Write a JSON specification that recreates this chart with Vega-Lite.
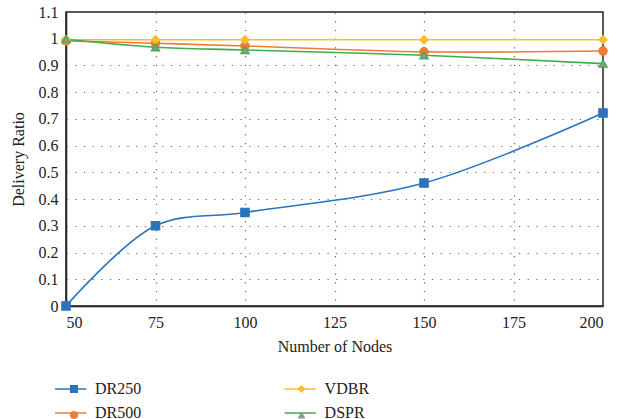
{
  "$schema": "https://vega.github.io/schema/vega-lite/v6.json",
  "autosize": {"type": "none"},
  "padding": {"left": 66, "top": 12, "right": 14, "bottom": 113},
  "width": 537,
  "height": 294,
  "background": "white",
  "config": {
    "view": {"stroke": "#222", "strokeWidth": 1.5},
    "font": "Liberation Serif",
    "axis": {
      "labelFont": "Liberation Serif", "labelFontSize": 16, "labelColor": "#222",
      "titleFont": "Liberation Serif", "titleFontSize": 16, "titleFontWeight": "normal", "titleColor": "#222",
      "domainColor": "#222", "domainWidth": 1.5, "ticks": false,
      "gridColor": "#666", "gridDash": [1.2, 7.5], "gridWidth": 1.2
    },
    "legend": {
      "labelFont": "Liberation Serif", "labelFontSize": 16, "labelColor": "#222"
    }
  },
  "data": {
    "values": [
      {"nodes": 50, "series": "DR250", "ratio": 0.0},
      {"nodes": 75, "series": "DR250", "ratio": 0.30},
      {"nodes": 100, "series": "DR250", "ratio": 0.35},
      {"nodes": 150, "series": "DR250", "ratio": 0.46},
      {"nodes": 200, "series": "DR250", "ratio": 0.722},
      {"nodes": 50, "series": "DR500", "ratio": 0.992},
      {"nodes": 75, "series": "DR500", "ratio": 0.983},
      {"nodes": 100, "series": "DR500", "ratio": 0.973},
      {"nodes": 150, "series": "DR500", "ratio": 0.951},
      {"nodes": 200, "series": "DR500", "ratio": 0.954},
      {"nodes": 50, "series": "VDBR", "ratio": 0.996},
      {"nodes": 75, "series": "VDBR", "ratio": 0.996},
      {"nodes": 100, "series": "VDBR", "ratio": 0.996},
      {"nodes": 150, "series": "VDBR", "ratio": 0.996},
      {"nodes": 200, "series": "VDBR", "ratio": 0.996},
      {"nodes": 50, "series": "DSPR", "ratio": 0.998},
      {"nodes": 75, "series": "DSPR", "ratio": 0.968},
      {"nodes": 100, "series": "DSPR", "ratio": 0.958},
      {"nodes": 150, "series": "DSPR", "ratio": 0.938},
      {"nodes": 200, "series": "DSPR", "ratio": 0.907}
    ]
  },
  "encoding": {
    "x": {
      "field": "nodes", "type": "quantitative",
      "scale": {"domain": [50, 200], "nice": false, "zero": false},
      "axis": {"values": [50, 75, 100, 125, 150, 175, 200], "title": "Number of Nodes", "labelPadding": 8, "titlePadding": 8, "grid": true}
    },
    "y": {
      "field": "ratio", "type": "quantitative",
      "scale": {"domain": [0, 1.1], "nice": false},
      "axis": {"values": [0, 0.1, 0.2, 0.3, 0.4, 0.5, 0.6, 0.7, 0.8, 0.9, 1, 1.1], "format": ".1~f", "title": "Delivery Ratio", "labelPadding": 8, "titlePadding": 12, "grid": true}
    }
  },
  "layer": [
    {
      "mark": {"type": "line", "interpolate": "catmull-rom", "strokeWidth": 1.6},
      "encoding": {
        "stroke": {
          "field": "series", "type": "nominal",
          "sort": ["DR250", "DR500", "VDBR", "DSPR"],
          "scale": {"range": ["#2a74bd", "#ef7b35", "#fbbd2e", "#3cae4a"]},
          "legend": {
            "title": null, "orient": "none", "legendX": -8.4, "legendY": 364,
            "columns": 2, "columnPadding": 139.6, "rowPadding": 3,
            "symbolType": "M-1.3,0H1.3", "symbolSize": 576, "symbolStrokeWidth": 1.5,
            "labelOffset": 11.4
          }
        }
      }
    },
    {
      "mark": {"type": "point", "filled": true, "size": 70, "strokeWidth": 1.2, "opacity": 1},
      "encoding": {
        "color": {
          "field": "series", "type": "nominal",
          "scale": {"domain": ["DR250", "DR500", "VDBR", "DSPR"], "range": ["#2a74bd", "#ef7b35", "#fbbd2e", "#8e9b8f"]},
          "legend": {
            "title": null, "orient": "none", "legendX": 0, "legendY": 369,
            "columns": 2, "columnPadding": 211.5, "rowPadding": 10,
            "symbolSize": 64, "symbolStrokeWidth": 0, "labelOffset": 0, "labelExpr": "''"
          }
        },
        "shape": {
          "field": "series", "type": "nominal",
          "scale": {"domain": ["DR250", "DR500", "VDBR", "DSPR"], "range": ["square", "circle", "diamond", "triangle-up"]}
        },
        "stroke": {
          "field": "series", "type": "nominal",
          "sort": ["DR250", "DR500", "VDBR", "DSPR"]
        }
      }
    }
  ]
}
